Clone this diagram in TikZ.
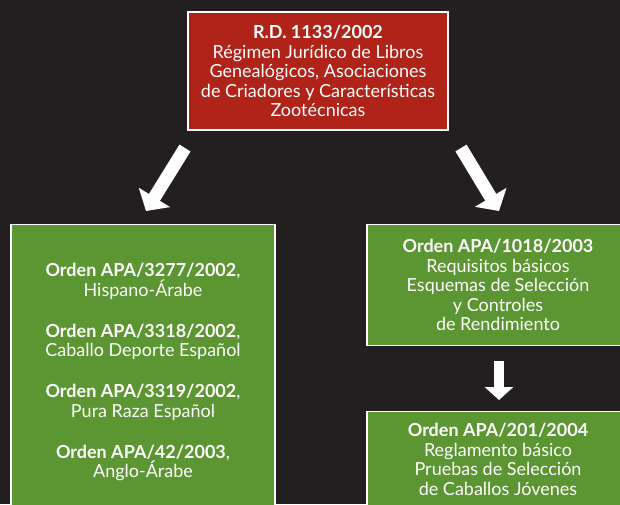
\documentclass[tikz,border=0pt]{standalone}
\usepackage{fontspec}
\setmainfont{Lato}
\usetikzlibrary{arrows.meta}
\definecolor{bgdark}{HTML}{231F20}
\definecolor{rdred}{HTML}{B02318}
\definecolor{apagreen}{HTML}{5B9632}
\begin{document}
\begin{tikzpicture}[x=1pt,y=-1pt,
    box/.style={draw=white,line width=1.2pt,inner sep=0pt,align=center,text=white,
      font=\fontsize{18}{19.5}\selectfont},
    bigarrow/.style={white,line width=13pt,-{Triangle[width=36pt,length=16pt]}}]
        %% background
        \fill[bgdark] (0,0) rectangle (620,504);
        \useasboundingbox (0,0) rectangle (620,504);
        \clip (0,0) rectangle (620,504);
        %% R.D. box
        \node[box,fill=rdred,minimum width=260,minimum height=118] (rd) at (318,71)
          {\textbf{R.D. 1133/2002}\\Régimen Jurídico de Libros\\Genealógicos, Asociaciones\\de Criadores y Características\\Zootécnicas};
        %% left box
        \node[box,fill=apagreen,minimum width=264,minimum height=300,anchor=north] (razas) at (143,224) {};
        \node[align=center,text=white,font=\fontsize{18}{19.5}\selectfont,anchor=north] (razastxt) at (143,260)
          {\textbf{Orden APA/3277/2002},\\Hispano-Árabe\\[21.5pt]
           \textbf{Orden APA/3318/2002},\\Caballo Deporte Español\\[21.5pt]
           \textbf{Orden APA/3319/2002},\\Pura Raza Español\\[21.5pt]
           \textbf{Orden APA/42/2003},\\Anglo-Árabe};
        %% right upper box
        \node[box,fill=apagreen,minimum width=262,minimum height=121,anchor=north] (esquemas) at (498,224)
          {\textbf{Orden APA/1018/2003}\\Requisitos básicos\\Esquemas de Selección\\y Controles\\de Rendimiento};
        %% right lower box
        \node[box,fill=apagreen,minimum width=262,minimum height=110,anchor=north] (pruebas) at (498,411) {};
        \node[align=center,text=white,font=\fontsize{18}{19.5}\selectfont,anchor=north] (pruebastxt) at (498,420)
          {\textbf{Orden APA/201/2004}\\Reglamento básico\\Pruebas de Selección\\de Caballos Jóvenes};
        %% arrows
        \coordinate (l0) at (185,148);
        \coordinate (l1) at (146,211);
        \coordinate (r0) at (461,148);
        \coordinate (r1) at (499,211);
        \coordinate (m0) at (499,361);
        \coordinate (m1) at (499,400);
        \draw[bigarrow] (l0) -- (l1);
        \draw[bigarrow] (r0) -- (r1);
        \draw[white,line width=10pt,-{Triangle[width=28pt,length=13pt]}] (m0) -- (m1);
    \end{tikzpicture}
\end{document}
